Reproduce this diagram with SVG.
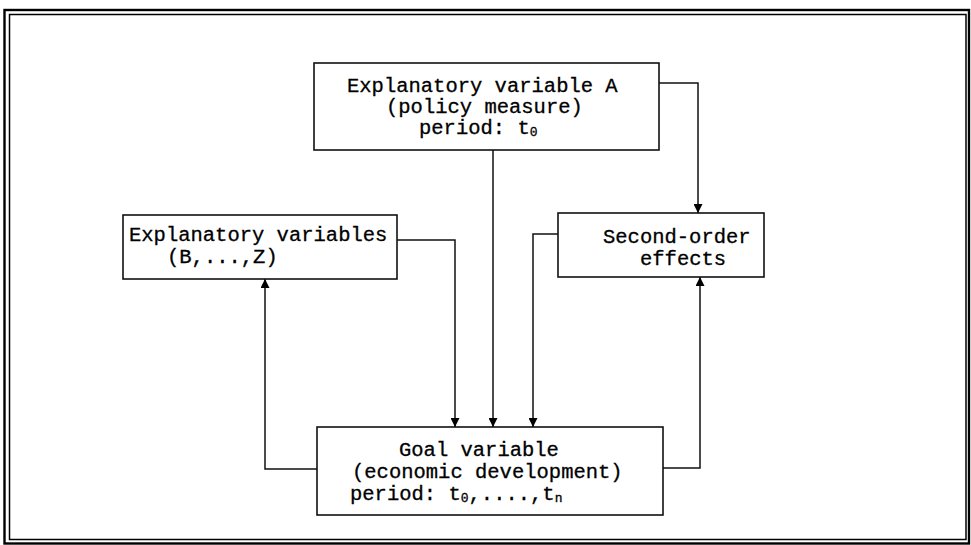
<svg xmlns="http://www.w3.org/2000/svg" width="971" height="545" viewBox="0 0 971 545">
  <style>
    .frame { fill: none; stroke: #000; }
    .box { fill: #fff; stroke: #111; stroke-width: 1.6; }
    .lbl { font-family: "Liberation Mono", "Courier New", monospace; font-size: 20.5px; fill: #000; stroke: #000; stroke-width: 0.3; }
    .sub { font-size: 13px; }
    .wire { fill: none; stroke: #111; stroke-width: 1.5; }
  </style>
  <defs>
    <marker id="arrow" viewBox="0 0 10 10" refX="10" refY="5" markerWidth="10" markerHeight="9" markerUnits="userSpaceOnUse" orient="auto">
      <path d="M0,0 L10,5 L0,10 Z" fill="#000"/>
    </marker>
  </defs>

  <rect width="971" height="545" fill="#fff"/>
  <!-- double frame -->
  <rect class="frame" x="4.5" y="10" width="964.5" height="533.5" stroke-width="2.4"/>
  <rect class="frame" x="9.5" y="14.5" width="956.5" height="525" stroke-width="1.5"/>

  <g id="connectors">
    <path class="wire" d="M659,83 H698 V213" marker-end="url(#arrow)"/>
    <path class="wire" d="M493,150 V427" marker-end="url(#arrow)"/>
    <path class="wire" d="M397,240 H455 V427" marker-end="url(#arrow)"/>
    <path class="wire" d="M558,234 H533 V427" marker-end="url(#arrow)"/>
    <path class="wire" d="M317,469 H265 V279" marker-end="url(#arrow)"/>
    <path class="wire" d="M663,468 H700 V277" marker-end="url(#arrow)"/>
  </g>

  <g id="policy">
    <rect class="box" x="314" y="63" width="345" height="87"/>
    <text class="lbl" x="347" y="92">Explanatory variable A</text>
    <text class="lbl" x="386" y="113">(policy measure)</text>
    <text class="lbl" x="419" y="134">period: t<tspan class="sub" dy="2">0</tspan></text>
  </g>

  <g id="others">
    <rect class="box" x="123" y="215" width="274" height="64"/>
    <text class="lbl" x="129" y="241">Explanatory variables</text>
    <text class="lbl" x="167" y="263">(B,...,Z)</text>
  </g>

  <g id="second-order">
    <rect class="box" x="558" y="213" width="206" height="64"/>
    <text class="lbl" x="603" y="243">Second-order</text>
    <text class="lbl" x="640" y="265">effects</text>
  </g>

  <g id="goal">
    <rect class="box" x="317" y="427" width="346" height="88"/>
    <text class="lbl" x="399" y="456">Goal variable</text>
    <text class="lbl" x="352" y="478">(economic development)</text>
    <text class="lbl" x="350" y="500">period: t<tspan class="sub" dy="2">0</tspan><tspan dy="-2">,....,t</tspan><tspan class="sub" dy="2">n</tspan></text>
  </g>
</svg>
